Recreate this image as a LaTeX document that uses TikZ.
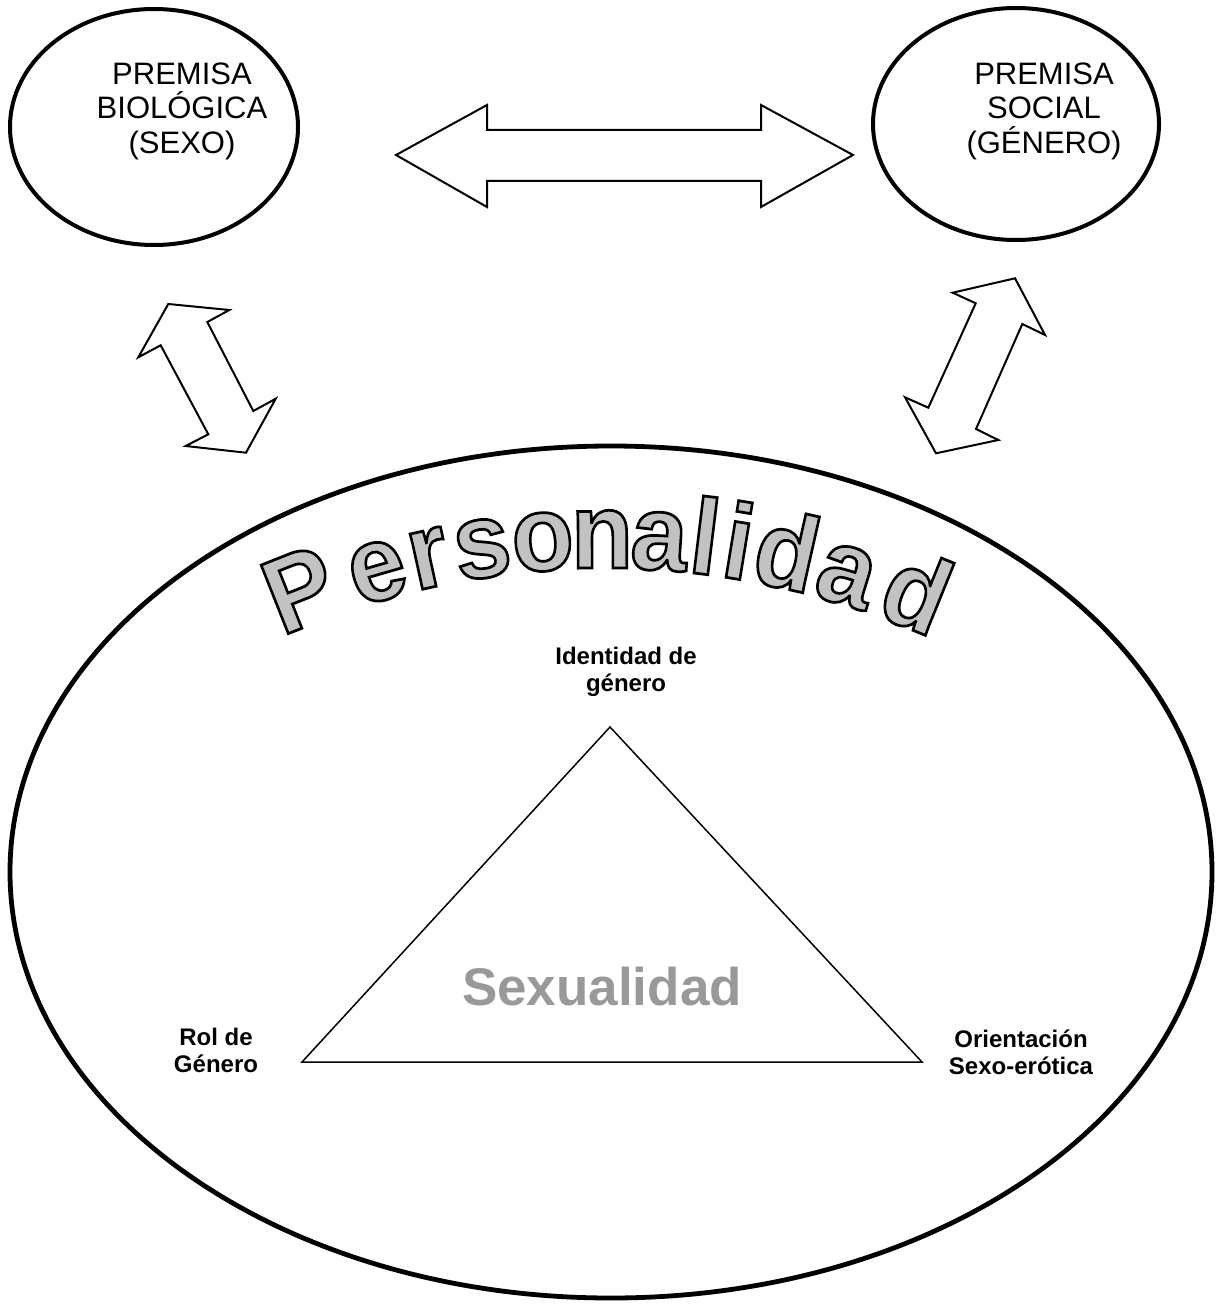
\documentclass[tikz,border=0pt]{standalone}
\usepackage{graphicx}
\usepackage{fontspec}
\setmainfont{Liberation Sans}
\usetikzlibrary{shapes.geometric}
\definecolor{sexgray}{gray}{0.6}
\definecolor{persgray}{gray}{0.76}
\newcommand{\olet}[1]{\scalebox{1.08}[1.14]{\color{persgray}\special{pdf:literal direct 2 Tr 0 G 1.2 w}#1\special{pdf:literal direct 0 Tr}}}
\begin{document}
\begin{tikzpicture}[x=0.5pt,y=0.5pt,
  oval/.style={draw, ellipse, inner sep=0pt},
  blockarrow/.style={draw, line width=1pt, fill=white, line join=miter},
  prem/.style={align=center, anchor=north, inner sep=0pt, font=\fontsize{15.5}{17.25}\selectfont},
  lab/.style={align=center, anchor=north, inner sep=0pt, font=\bfseries\fontsize{12}{13.5}\selectfont},
  plet/.style={anchor=base, inner sep=0pt, font=\bfseries\fontsize{47}{50}\selectfont}]
\useasboundingbox (0,0) rectangle (1216,-1305);

% ellipses
\node[oval, line width=2pt, minimum width=144pt, minimum height=118pt] (bio) at (154,-127) {};
\node[oval, line width=2pt, minimum width=143pt, minimum height=116pt] (soc) at (1016,-124) {};
\node[oval, line width=2.4pt, minimum width=601pt, minimum height=426pt] (per) at (611,-872) {};

% ellipse texts
\node[prem] (biot) at (182,-62) {PREMISA\\BIOLÓGICA\\(SEXO)};
\node[prem] (soct) at (1044,-62) {PREMISA\\SOCIAL\\(GÉNERO)};

% block arrows
\draw[blockarrow] (396,-155) -- (487,-105) -- (487,-130) -- (761,-130) -- (761,-105)
  -- (853,-155) -- (761,-207) -- (761,-181) -- (487,-181) -- (487,-207) -- cycle;
\draw[blockarrow] (168.3,-304) -- (229.3,-310) -- (207.3,-322) -- (253.3,-411) -- (275.7,-398.7)
  -- (246,-452.7) -- (185.7,-446) -- (208.3,-434.3) -- (160.7,-345.3) -- (138.3,-357.3) -- cycle;
\draw[blockarrow] (1015,-278.3) -- (1045,-335) -- (1022.3,-324) -- (976,-429) -- (998.3,-440)
  -- (936,-453.3) -- (905,-397.3) -- (928.3,-407.7) -- (975.7,-303.3) -- (952.7,-292.7) -- cycle;

% triangle
\coordinate (apex) at (610,-727);
\coordinate (tl) at (302,-1062);
\coordinate (tr) at (922,-1062);
\draw[line width=0.75pt, line join=miter] (apex) -- (tl) -- (tr) -- cycle;

% labels
\node[lab] (ident) at (626,-647) {Identidad de\\género};
\node[lab] (rol) at (216,-1028) {Rol de\\Género};
\node[lab] (orient) at (1021,-1029) {Orientación\\Sexo-erótica};
\node[font=\bfseries\fontsize{26.5}{30}\selectfont, text=sexgray, anchor=base, inner sep=0pt] (sex) at (602,-1005) {Sexualidad};

% arched title
\foreach \c/\ang [count=\i] in {P/111.6, e/106.1, r/102.4, s/98.6, o/94.35, n/90.21,
    a/86.21, l/83.04, i/80.70, d/77.3, a/72.9, d/67.9}
  \node[plet, rotate=\ang-90] (pl\i) at ([shift={(605,-1360)}] \ang:792) {\olet{\c}};
\end{tikzpicture}
\end{document}
